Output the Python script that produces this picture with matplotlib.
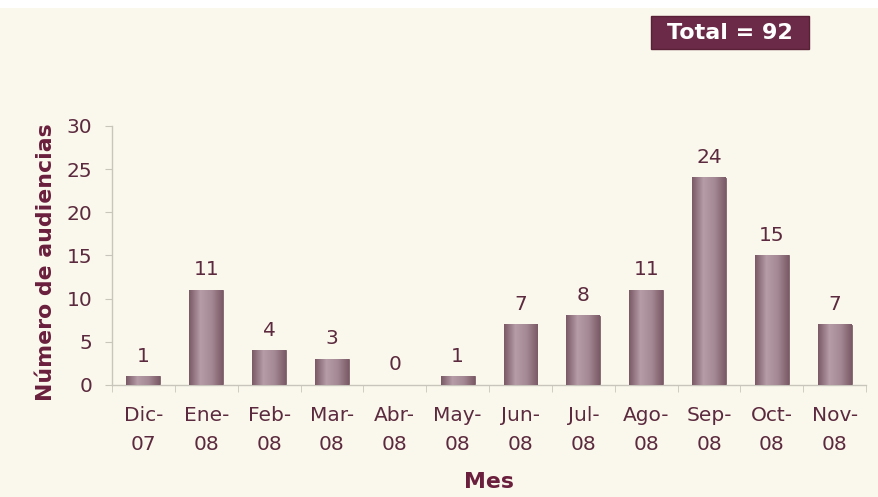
import numpy as np
import matplotlib
matplotlib.use("Agg")
import matplotlib.pyplot as plt
from matplotlib.colors import LinearSegmentedColormap

months = ["Dic-\n07", "Ene-\n08", "Feb-\n08", "Mar-\n08", "Abr-\n08", "May-\n08",
          "Jun-\n08", "Jul-\n08", "Ago-\n08", "Sep-\n08", "Oct-\n08", "Nov-\n08"]
audiencias = [1, 11, 4, 3, 0, 1, 7, 8, 11, 24, 15, 7]
total_text = "Total = 92"

bg = "#faf8ec"
text_col = "#5c2a3e"
label_col = "#6a1f3c"
axis_col = "#c8c6bc"

plt.rcParams['font.family'] = ['DejaVu Sans']

fig = plt.figure(figsize=(8.79, 4.97), dpi=100)
fig.patch.set_facecolor(bg)
# thin white strip at the top
fig.patches.append(plt.Rectangle((0, 0.983), 1, 0.017, transform=fig.transFigure,
                                 facecolor="white", edgecolor="none", zorder=0))
ax = fig.add_axes([0.1274, 0.2254, 0.858, 0.5211])
ax.set_facecolor(bg)

x = np.arange(len(months))
bars = ax.bar(x, audiencias, width=0.54, color="#9c8088", edgecolor="#7d6068",
              linewidth=0.6, zorder=2)

# horizontal shading inside each bar
grad = LinearSegmentedColormap.from_list("g", ["#7a5a66", "#b59ca6", "#a58a95", "#7a5a66"])
shade = np.linspace(0, 1, 64).reshape(1, -1)
for b in bars:
    if b.get_height() <= 0:
        continue
    x0, w, h = b.get_x(), b.get_width(), b.get_height()
    ax.imshow(shade, cmap=grad, aspect="auto", extent=(x0, x0 + w, 0, h),
              zorder=3, interpolation="bilinear")

for xi, v in zip(x, audiencias):
    ax.text(xi, v + 1.25, str(v), ha="center", va="bottom", fontsize=14.5, color=text_col)

ax.set_xlim(-0.5, len(months) - 0.5)
ax.set_ylim(0, 30)
ax.set_yticks(range(0, 31, 5))
ax.set_xticks(x)
ax.set_xticklabels(months, fontsize=14.5, color=text_col, linespacing=1.65)
ax.tick_params(axis="y", labelsize=14.5, labelcolor=text_col, color=axis_col, length=5, pad=9)
ax.tick_params(axis="x", length=0, pad=15)
ax.set_xticks(np.arange(-0.5, len(months), 1), minor=True)
ax.tick_params(axis="x", which="minor", length=5, color=axis_col)

for s in ["top", "right"]:
    ax.spines[s].set_visible(False)
for s in ["left", "bottom"]:
    ax.spines[s].set_color(axis_col)
    ax.spines[s].set_linewidth(1)

ax.set_ylabel("Número de audiencias", fontsize=15.8, fontweight="bold", color=label_col, labelpad=8)
ax.yaxis.label.set_y(0.473)
ax.set_xlabel("Mes", fontsize=15.8, fontweight="bold", color=label_col, labelpad=13)

fig.patches.append(plt.Rectangle((0.7406, 0.9014), 0.1797, 0.0664, transform=fig.transFigure,
                                 facecolor="#6b2a48", edgecolor="#5a2038", zorder=1))
fig.text(0.8305, 0.9346, total_text, ha="center", va="center", fontsize=16,
         fontweight="bold", color="white", zorder=2)

fig.savefig("out.png", dpi=100, facecolor=bg)
